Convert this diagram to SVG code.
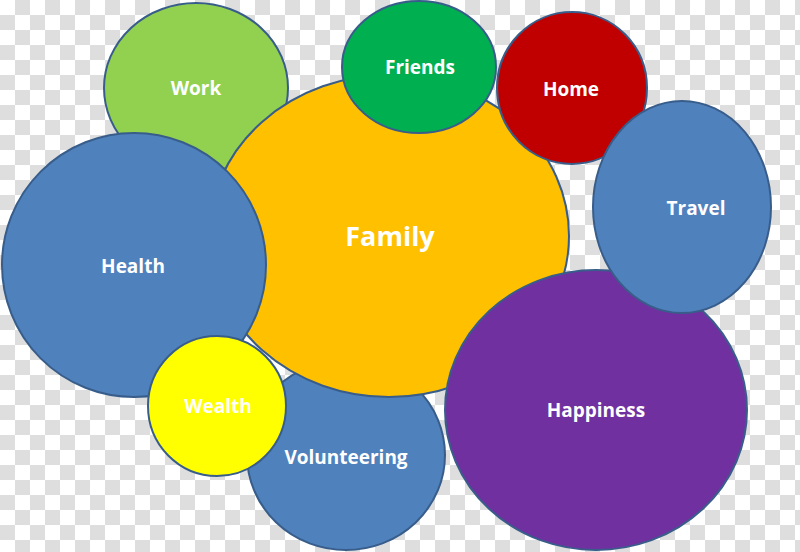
<svg xmlns="http://www.w3.org/2000/svg" width="800" height="552" viewBox="0 0 800 552">
<defs>
<pattern id="checker" x="0" y="0" width="30" height="30" patternUnits="userSpaceOnUse">
<rect width="30" height="30" fill="#ffffff"/>
<rect x="15" y="0" width="15" height="15" fill="#dedede"/>
<rect x="0" y="15" width="15" height="15" fill="#dedede"/>
</pattern>
<style>
.b{stroke:#385d8a;stroke-width:2}
.t{font-family:"Open Sans","Liberation Sans",sans-serif;font-weight:700;font-size:19px;fill:#ffffff;text-anchor:middle}
.big{font-size:27px}
</style>
</defs>
<rect width="800" height="552" fill="url(#checker)"/>
<g id="work"><ellipse class="b" cx="196" cy="88" rx="92" ry="85" fill="#92d050"/><text class="t" x="196" y="95">Work</text></g>
<g id="volunteering"><ellipse class="b" cx="346" cy="455" rx="99" ry="95" fill="#4f81bd"/><text class="t" x="346" y="464">Volunteering</text></g>
<g id="family"><ellipse class="b" cx="389" cy="236" rx="180" ry="161" fill="#ffc000"/><text class="t big" x="390" y="246">Family</text></g>
<g id="health"><ellipse class="b" cx="134" cy="265" rx="132" ry="132" fill="#4f81bd"/><text class="t" x="133" y="273">Health</text></g>
<g id="friends"><ellipse class="b" cx="419" cy="67" rx="77" ry="66" fill="#00b050"/><text class="t" x="420" y="74">Friends</text></g>
<g id="home"><ellipse class="b" cx="572" cy="88" rx="75" ry="76" fill="#c00000"/><text class="t" x="571" y="96">Home</text></g>
<g id="happiness"><ellipse class="b" cx="596" cy="410" rx="151" ry="140" fill="#7030a0"/><text class="t" x="596" y="417">Happiness</text></g>
<g id="travel"><ellipse class="b" cx="682" cy="207" rx="89" ry="106" fill="#4f81bd"/><text class="t" x="696" y="215">Travel</text></g>
<g id="wealth"><ellipse class="b" cx="217" cy="406" rx="69" ry="70" fill="#ffff00"/><text class="t" x="218" y="413">Wealth</text></g>
<g id="connectors"/>
</svg>
